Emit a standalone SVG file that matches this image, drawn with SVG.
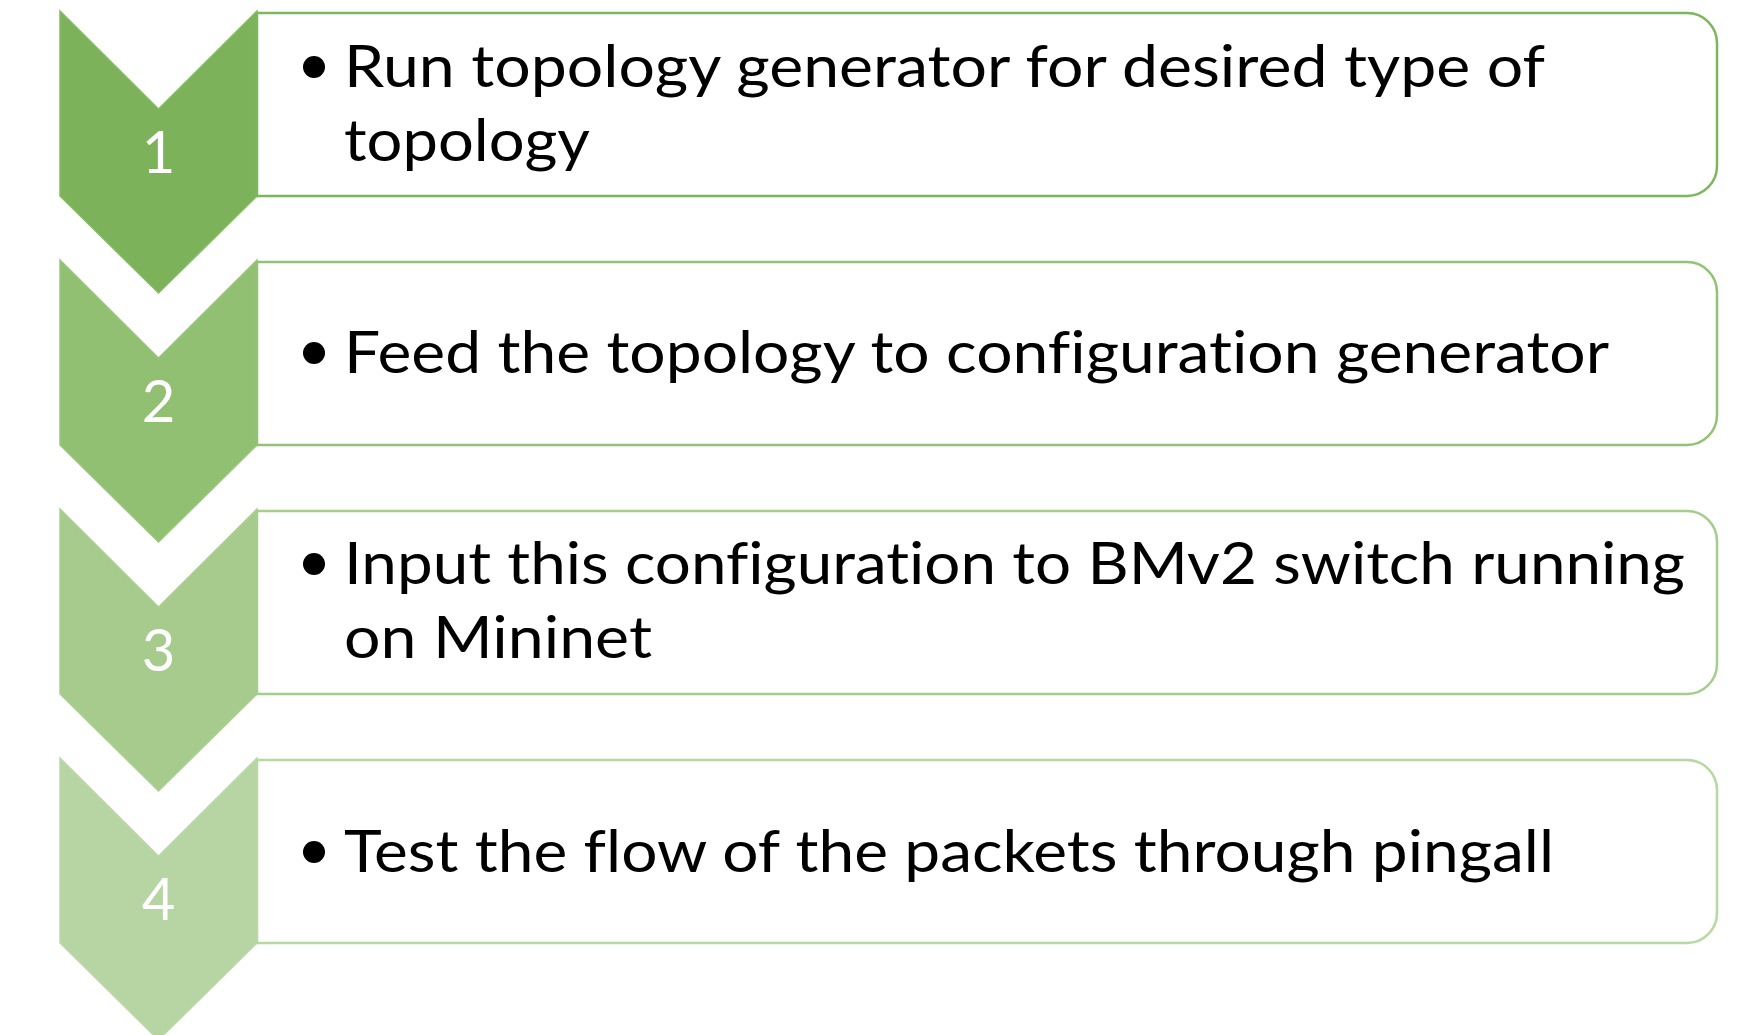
<svg xmlns="http://www.w3.org/2000/svg" width="1762" height="1035" viewBox="0 0 1762 1035">
<style>
.num{font-family:Lato,"Open Sans",sans-serif;font-size:58px;fill:#ffffff;text-anchor:middle}
.txt{font-family:Lato,"Open Sans",sans-serif;font-size:58px;fill:#000000;font-variant-ligatures:none;font-feature-settings:"liga" 0}
.box{fill:#ffffff;stroke-width:2.5}
.chev{stroke-width:1.5}
</style>
<rect width="1762" height="1035" fill="#ffffff"/>
<g id="step1">
<path class="chev" d="M60,11 L158.5,109 L257,11 L257,196 L158.5,293 L60,196 Z" fill="#7cb35a" stroke="#86bb65"/>
<text class="num" x="158.5" y="173">1</text>
<path class="box" d="M257,13 H1687 A30,30 0 0 1 1717,43 V166 A30,30 0 0 1 1687,196 H257 Z" stroke="#7db75b"/>
<circle cx="314" cy="67" r="11" fill="#000"/>
<text class="txt" x="344" y="87" textLength="1201" lengthAdjust="spacingAndGlyphs">Run topology generator for desired type of</text>
<text class="txt" x="344" y="161" textLength="246" lengthAdjust="spacingAndGlyphs">topology</text>
</g>
<g id="step2">
<path class="chev" d="M60,260 L158.5,358 L257,260 L257,445 L158.5,542 L60,445 Z" fill="#92c073" stroke="#9ac67d"/>
<text class="num" x="158.5" y="422">2</text>
<path class="box" d="M257,262 H1687 A30,30 0 0 1 1717,292 V415 A30,30 0 0 1 1687,445 H257 Z" stroke="#92c273"/>
<circle cx="314" cy="353" r="11" fill="#000"/>
<text class="txt" x="344" y="373" textLength="1265" lengthAdjust="spacingAndGlyphs">Feed the topology to configuration generator</text>
</g>
<g id="step3">
<path class="chev" d="M60,509 L158.5,607 L257,509 L257,694 L158.5,791 L60,694 Z" fill="#a6cb8c" stroke="#acd094"/>
<text class="num" x="158.5" y="671">3</text>
<path class="box" d="M257,511 H1687 A30,30 0 0 1 1717,541 V664 A30,30 0 0 1 1687,694 H257 Z" stroke="#a5cd8c"/>
<circle cx="314" cy="564" r="11" fill="#000"/>
<text class="txt" x="344" y="584" textLength="1341" lengthAdjust="spacingAndGlyphs">Input this configuration to BMv2 switch running</text>
<text class="txt" x="344" y="658" textLength="308" lengthAdjust="spacingAndGlyphs">on Mininet</text>
</g>
<g id="step4">
<path class="chev" d="M60,758 L158.5,856 L257,758 L257,943 L158.5,1040 L60,943 Z" fill="#b6d5a3" stroke="#bcd9aa"/>
<text class="num" x="158.5" y="920">4</text>
<path class="box" d="M257,760 H1687 A30,30 0 0 1 1717,790 V913 A30,30 0 0 1 1687,943 H257 Z" stroke="#b7d7a3"/>
<circle cx="314" cy="852" r="11" fill="#000"/>
<text class="txt" x="344" y="872" textLength="1210" lengthAdjust="spacingAndGlyphs">Test the flow of the packets through pingall</text>
</g>
<g id="connectors"/>
</svg>
